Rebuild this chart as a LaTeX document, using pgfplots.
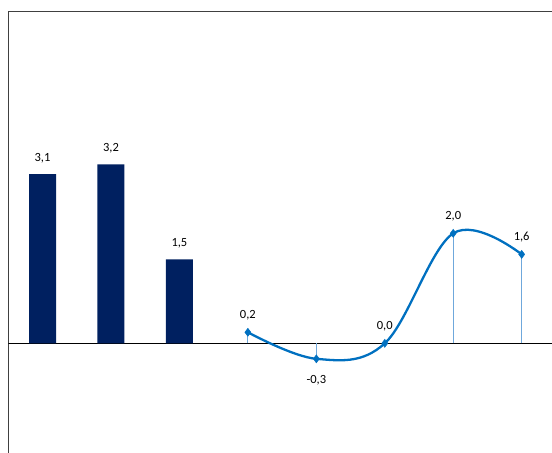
\documentclass[border=0pt]{standalone}
\usepackage{pgfplots}
\pgfplotsset{compat=1.18}
\usepackage{fontspec}
\setmainfont{Carlito}
\definecolor{barnavy}{HTML}{002060}
\definecolor{lineblue}{HTML}{0070C0}
\definecolor{dropblue}{HTML}{6FA8DC}
\definecolor{framegray}{HTML}{404040}
\begin{document}
\begin{tikzpicture}
\begin{axis}[
  at={(0,0)}, anchor=north west,
  scale only axis, width=547.6bp, height=442.2bp,
  xmin=-0.5, xmax=7.5, ymin=-2, ymax=6,
  xtick=\empty, ytick=\empty,
  axis line style={framegray, line width=1.2bp},
  /pgf/number format/fixed,
  /pgf/number format/fixed zerofill,
  /pgf/number format/precision=1,
  /pgf/number format/use comma,
  /pgf/number format/assume math mode=true,
  nodes near coords style={font=\fontsize{12.5bp}{14bp}\selectfont, text=black},
]
\addplot[black, line width=1.3bp, forget plot] coordinates {(-0.5,0) (7.5,0)};
\addplot[ybar, bar width=27bp, fill=barnavy, draw=none, mark=none,
  nodes near coords, nodes near coords style={anchor=south, yshift=8bp}]
  coordinates {(0,3.06) (1,3.24) (2,1.52)};
\addplot[ycomb, dropblue, line width=1bp, mark=none]
  coordinates {(3,0.2) (4,-0.28) (5,0) (6,1.99) (7,1.61)};
\addplot[lineblue, line width=2.3bp, smooth, tension=0.6, mark=diamond*, mark size=4bp,
  mark options={fill=lineblue, draw=lineblue, line width=0.5bp}]
  coordinates {(3,0.2) (4,-0.28) (5,0) (6,1.99) (7,1.61)};
\addplot[draw=none, mark=none, nodes near coords, nodes near coords style={anchor=south, yshift=9bp}]
  coordinates {(3,0.2) (5,0) (6,1.99) (7,1.61)};
\addplot[draw=none, mark=none, nodes near coords, nodes near coords style={anchor=north, yshift=-12.8bp}]
  coordinates {(4,-0.28)};
\end{axis}
\pgfresetboundingbox
\path[use as bounding box] (-8.3bp,11.7bp) rectangle (543.7bp,-441.3bp);
\end{tikzpicture}
\end{document}
